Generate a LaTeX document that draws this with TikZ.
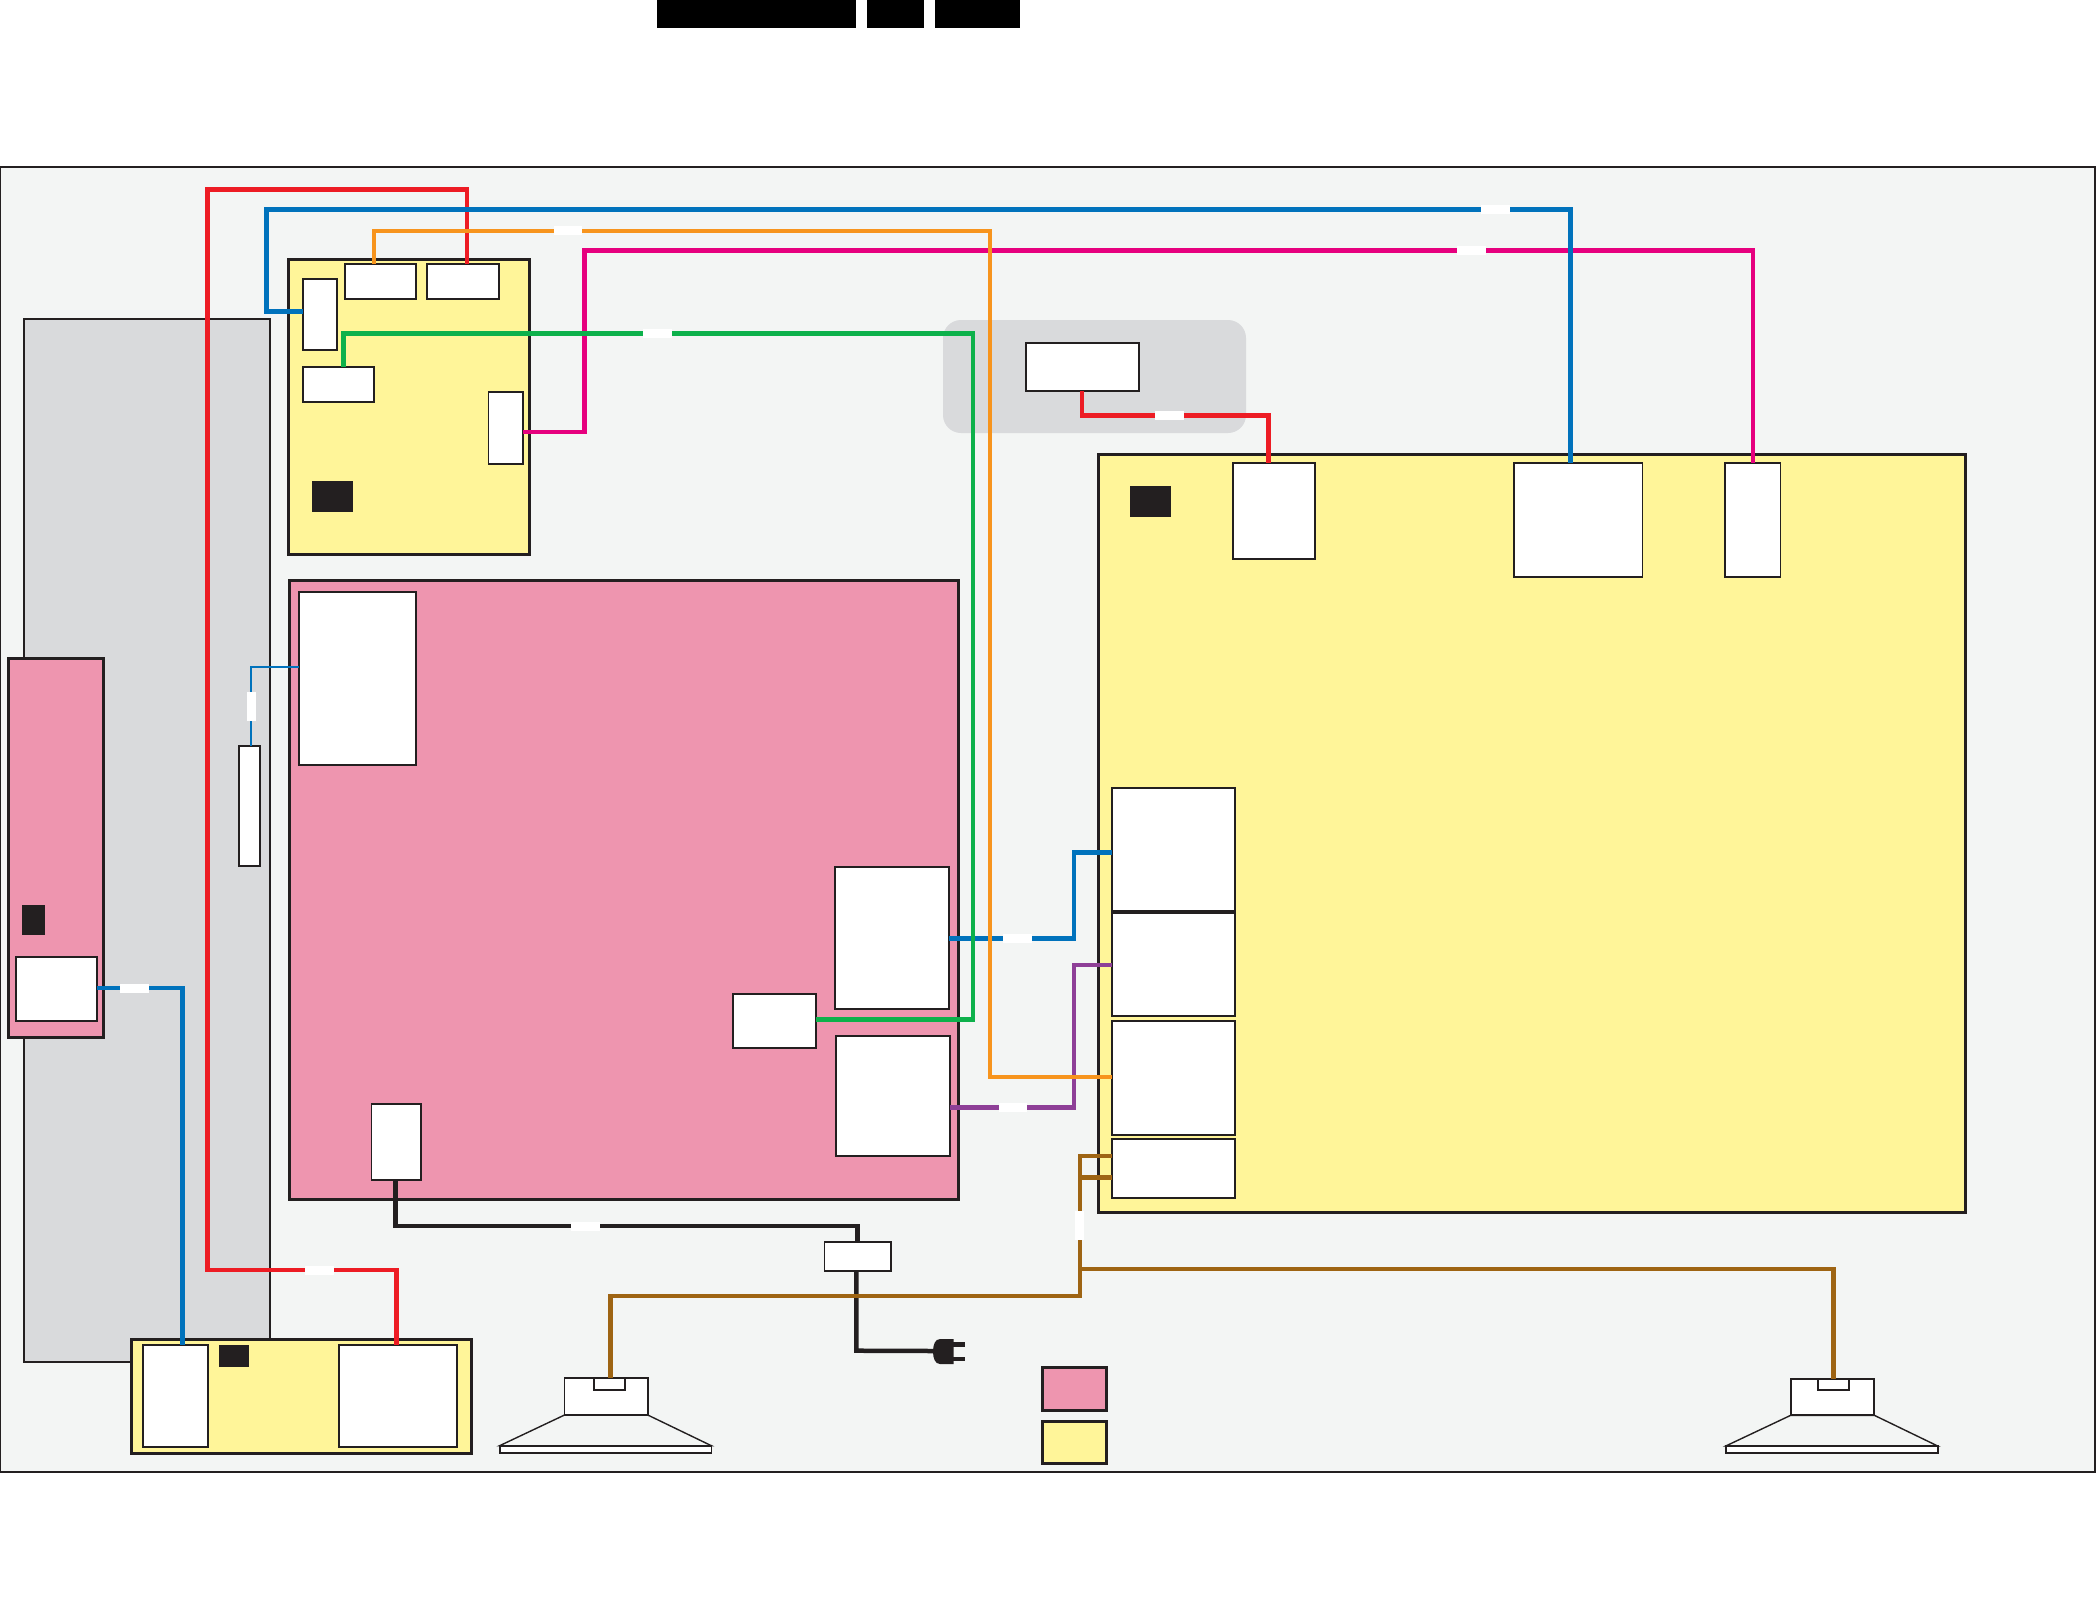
\documentclass[tikz,border=0pt]{standalone}
\definecolor{wred}{HTML}{ED1C24}
\definecolor{wblue}{HTML}{0072BC}
\definecolor{worange}{HTML}{F7941D}
\definecolor{wmag}{HTML}{E6007E}
\definecolor{wgreen}{HTML}{0DB14B}
\definecolor{wpurple}{HTML}{8E3F97}
\definecolor{wbrown}{HTML}{9E6413}
\definecolor{ink}{HTML}{231F20}
\definecolor{pinkb}{HTML}{EE95AF}
\definecolor{yellowb}{HTML}{FFF599}
\definecolor{bgc}{HTML}{F3F5F4}
\definecolor{grayc}{HTML}{D9DADC}
\tikzset{
  box/.style={rectangle,inner sep=0pt,outer sep=0pt},
  frame/.style={box,draw=ink,fill=bgc,line width=1.5pt},
  panel/.style={box,draw=ink,fill=grayc,line width=1.5pt},
  yboard/.style={box,draw=ink,fill=yellowb,line width=3pt},
  pboard/.style={box,draw=ink,fill=pinkb,line width=3pt},
  conn/.style={box,draw=ink,fill=white,line width=1.8pt},
  blk/.style={box,fill=ink},
  bar/.style={box,fill=black},
  gapb/.style={box,fill=white},
  soft/.style={box,fill=grayc,rounded corners=18pt},
  wire/.style={line width=#1,line join=miter,line cap=butt},
  wire/.default=4.5pt,
  thinl/.style={draw=ink,fill=bgc,line width=1.4pt},
}
\newcommand{\bx}[6]{\node[#2,minimum width={((#5)-(#3))*1pt},minimum height={((#6)-(#4))*1pt}] (#1) at ({((#3)+(#5))/2},{((#4)+(#6))/2}) {};}
\begin{document}
\begin{tikzpicture}[x=1pt,y=-1pt]
\useasboundingbox (0,0) rectangle (2096,1599);
\fill[white] (0,0) rectangle (2096,1599);
% top bars
\bx{barA}{bar}{657}{0}{856}{28}
\bx{barB}{bar}{867}{0}{924}{28}
\bx{barC}{bar}{935}{0}{1020}{28}
% backgrounds
\bx{outer}{frame}{0.6}{167}{2095}{1472}
\bx{panelL}{panel}{24}{319}{270}{1362}
\bx{softP}{soft}{943}{320}{1246}{433}
% boards
\bx{ytop}{yboard}{288.8}{259.3}{529.5}{554.3}
\bx{pmain}{pboard}{289.7}{580.7}{958.7}{1199.3}
\bx{ymain}{yboard}{1098.3}{454.3}{1965.6}{1212.3}
\bx{pleft}{pboard}{8.7}{658.3}{103.7}{1037.3}
\bx{ybot}{yboard}{131.3}{1339.7}{471.7}{1453.3}
% connectors on top-left board
\bx{ca}{conn}{302.7}{278.7}{337}{350}
\bx{cb}{conn}{344.6}{263.7}{416}{298.7}
\bx{cc}{conn}{427}{263.7}{499}{298.7}
\bx{cd}{conn}{302.7}{366.7}{374}{401.7}
\bx{ce}{conn}{488.4}{392.3}{523}{464}
\bx{ka}{blk}{312}{481}{353}{511.7}
% main pink
\bx{pa}{conn}{298.7}{591.7}{416.3}{765}
\bx{pb}{conn}{835.3}{867}{949}{1008.7}
\bx{pc}{conn}{733}{993.7}{816.3}{1048.3}
\bx{pd}{conn}{836.2}{1035.7}{950.3}{1155.7}
\bx{pe}{conn}{371.4}{1104.3}{420.7}{1180.3}
% main yellow
\bx{ya}{conn}{1233}{462.7}{1314.7}{559}
\bx{yb}{conn}{1514}{462.7}{1642.4}{577}
\bx{yc}{conn}{1725}{462.7}{1780.5}{577}
\bx{kb}{blk}{1130}{486}{1171}{517}
\bx{sa}{conn}{1112}{788}{1235.3}{910.7}
\bx{sb}{conn}{1112}{913.3}{1235.3}{1016}
\bx{sc}{conn}{1112}{1021.3}{1235.3}{1135}
\bx{sd}{conn}{1112}{1138.7}{1235.3}{1198}
% left pink
\bx{kc}{blk}{22}{905}{45}{935}
\bx{la}{conn}{15.7}{956.7}{97.3}{1021}
% side strip
\bx{st}{conn}{238.7}{745.7}{260}{866.3}
% bottom yellow
\bx{ba}{conn}{142.7}{1344.7}{208.3}{1447.3}
\bx{kd}{blk}{219}{1345}{249}{1367}
\bx{bb}{conn}{338.7}{1344.7}{457.3}{1447.3}
% grey zone box
\bx{ga}{conn}{1025.7}{342.7}{1139.3}{391.3}
% fuse
\bx{fu}{conn}{824.4}{1241.7}{891.3}{1271}
% speakers
\draw[thinl] (564.5,1415) -- (499.6,1445.7) -- (711.4,1445.7) -- (647.8,1415) -- cycle;
\bx{spla}{conn}{564.5}{1378.3}{647.8}{1415}
\bx{splb}{conn}{593.9}{1378.3}{625.3}{1390.3}
\bx{splc}{conn}{499.6}{1445.7}{711.4}{1453}
\draw[thinl] (1790.7,1415.3) -- (1725.7,1446) -- (1937.7,1446) -- (1874.3,1415.3) -- cycle;
\bx{spra}{conn}{1790.7}{1378.7}{1874.3}{1415.3}
\bx{sprb}{conn}{1817.7}{1378.7}{1849}{1390}
\bx{sprc}{conn}{1725.7}{1446}{1937.7}{1453.3}
% legend
\bx{lega}{pboard}{1042.4}{1367.3}{1106.5}{1410.7}
\bx{legb}{yboard}{1042.4}{1421.3}{1106.5}{1463.3}
% plug
\coordinate (plug) at (933,1351);
\fill[ink] (953.5,1339) -- (940,1339) .. controls (935,1339) and (933,1345) .. (933,1351.5) .. controls (933,1358) and (935,1364) .. (940,1364) -- (953.5,1364) -- cycle;
\fill[ink] (953,1342) rectangle (965,1347);
\fill[ink] (953,1356.7) rectangle (965,1361.3);
% wires
\draw[wire=4.7pt,wred] (cc.north -| 467,0) -- (467,189.3) -- (207.3,189.3) -- (207.3,1270) -- (396.7,1270) -- (bb.north -| 396.7,0);
\draw[wire,wred] (ga.south -| 1082,0) -- (1082,415.3) -- (1268.3,415.3) -- (ya.north -| 1268.3,0);
\draw[wire,ink] (pe.south -| 395.4,0) -- (395.4,1226) -- (857.5,1226) -- (fu.north -| 857.5,0);
\draw[wire,ink] (fu.south -| 856.3,0) -- (856.3,1350.7) -- (plug);
\draw[wire=4.4pt,wbrown] (splb.north -| 610.6,0) -- (610.6,1296) -- (1080,1296) -- (1080,1156) -- (sd.west |- 0,1156);
\draw[wire=5pt,wbrown] (1080,1177.3) -- (sd.west |- 0,1177.3);
\draw[wire=4.4pt,wbrown] (1080,1269) -- (1833.3,1269) -- (sprb.north -| 1833.3,0);
\draw[wire=4.4pt,wpurple] (pd.east |- 0,1107.3) -- (1074,1107.3) -- (1074,965) -- (sb.west |- 0,965);
\draw[wire,wmag] (ce.east |- 0,432) -- (584.4,432) -- (584.4,250.3) -- (1753,250.3) -- (yc.north -| 1753,0);
\draw[wire=4.7pt,wblue] (ca.west |- 0,311.3) -- (266.5,311.3) -- (266.5,209.3) -- (1570.7,209.3) -- (yb.north -| 1570.7,0);
\draw[wire,wblue] (pb.east |- 0,938.3) -- (1074,938.3) -- (1074,852.3) -- (sa.west |- 0,852.3);
\draw[wire=4.7pt,wblue] (la.east |- 0,988) -- (182.3,988) -- (ba.north -| 182.3,0);
\draw[wire=2pt,wblue] (pa.west |- 0,667.3) -- (251,667.3) -- (st.north -| 251,0);
\draw[wire,wgreen] (cd.north -| 343.3,0) -- (343.3,333.3) -- (973,333.3) -- (973,1019.3) -- (pc.east |- 0,1019.3);
\draw[wire=4.2pt,worange] (cb.north -| 373.7,0) -- (373.7,231) -- (990,231) -- (990,1076.7) -- (sc.west |- 0,1076.7);
% wire breaks
\bx{g1}{gapb}{305}{1266}{334}{1275}
\bx{g2}{gapb}{1481}{205}{1510}{214}
\bx{g3}{gapb}{553.6}{226}{581.7}{234.7}
\bx{g4}{gapb}{1457}{246}{1486}{254.7}
\bx{g5}{gapb}{643}{329}{672}{338}
\bx{g6}{gapb}{571}{1222}{600}{1231}
\bx{g7}{gapb}{1075}{1211}{1084}{1240}
\bx{g8}{gapb}{1003}{934}{1032}{943}
\bx{g9}{gapb}{999}{1103}{1027}{1112}
\bx{g10}{gapb}{120}{984}{149}{993}
\bx{g11}{gapb}{247}{692}{256}{721}
\bx{g12}{gapb}{1155}{410.7}{1184}{420}
\end{tikzpicture}
\end{document}
